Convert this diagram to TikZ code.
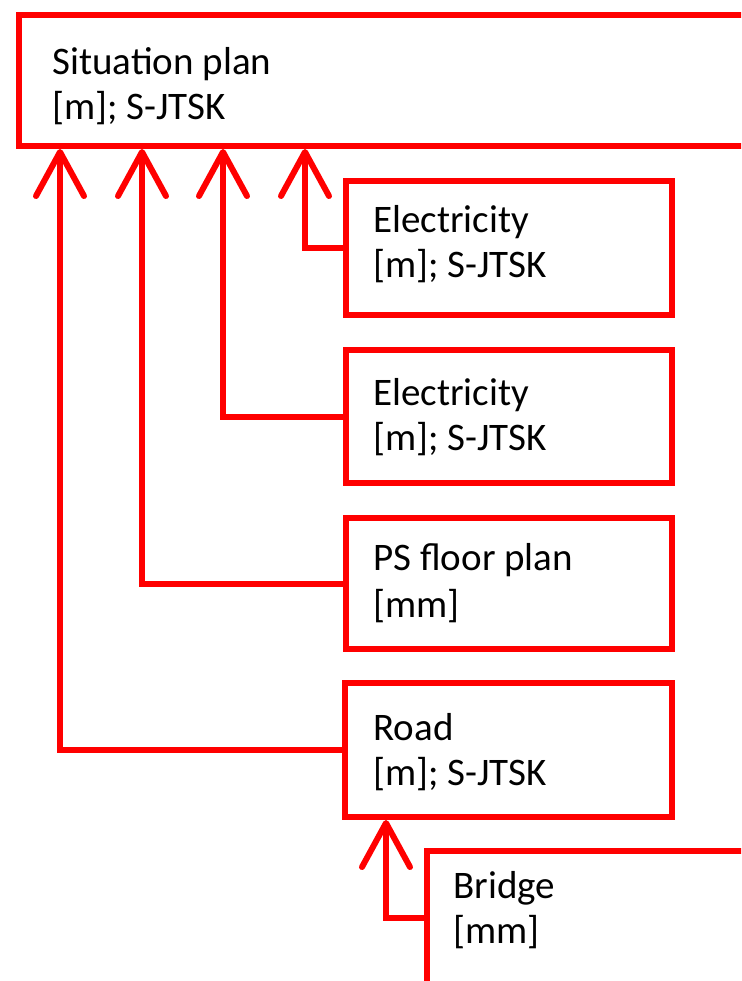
\documentclass[tikz,border=0pt]{standalone}
\usepackage{fontspec}
\setmainfont{Carlito}
\usetikzlibrary{arrows.meta}
\begin{document}
\begin{tikzpicture}[x=0.5pt,y=-0.5pt,
  box/.style={draw=red, line width=3pt, rectangle, inner sep=0pt, anchor=north west},
  lbl/.style={align=left, anchor=base west, inner sep=0pt, text=black,
    font=\fontsize{19.5}{22.5}\selectfont},
  arr/.style={draw=red, line width=3pt, -{Straight Barb[length=22pt,width=24pt,round]}}
]
\useasboundingbox (0,0) rectangle (741,981);
\clip (0,0) rectangle (741,981);
% boxes
\node[box, minimum width=382pt, minimum height=65.5pt] (top) at (16,12) {};
\node[box, minimum width=163pt, minimum height=67pt] (e1) at (343,178) {};
\node[box, minimum width=163pt, minimum height=66.5pt] (e2) at (343,347) {};
\node[box, minimum width=163pt, minimum height=65.5pt] (ps) at (343,515) {};
\node[box, minimum width=163.5pt, minimum height=67pt] (road) at (342,680) {};
\node[box, minimum width=180pt, minimum height=67pt] (bridge) at (424,848) {};
% texts (anchored at the baseline of the last line)
\node[lbl] (ttop) at (52,119) {Situation plan\\{}[m]; S-JTSK};
\node[lbl] (te1) at (373,277) {Electricity\\{}[m]; S-JTSK};
\node[lbl] (te2) at (373,450) {Electricity\\{}[m]; S-JTSK};
\node[lbl] (tps) at (373,617) {PS floor plan\\[1pt]{}[mm]};
\node[lbl] (troad) at (373,785) {Road\\{}[m]; S-JTSK};
\node[lbl] (tbridge) at (453,943) {Bridge\\{}[mm]};
% connectors
\draw[arr] (e1.west) -| ([xshift=144.5pt]top.south west);
\draw[arr] (e2.west) -| ([xshift=103.5pt]top.south west);
\draw[arr] (ps.west) -| ([xshift=63pt]top.south west);
\draw[arr] (road.west) -| ([xshift=22pt]top.south west);
\draw[arr] (bridge.west) -| ([xshift=22pt]road.south west);
\end{tikzpicture}
\end{document}
